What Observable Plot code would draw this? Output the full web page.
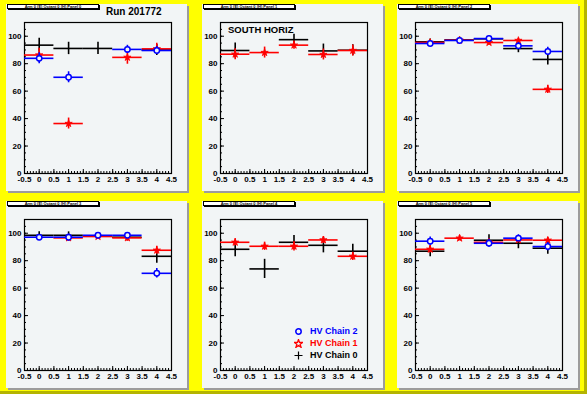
<!DOCTYPE html>
<html><head><meta charset="utf-8">
<script src="https://cdn.jsdelivr.net/npm/d3@7"></script>
<script src="https://cdn.jsdelivr.net/npm/@observablehq/plot@0.6"></script>
<style>
body{margin:0;background:#fff;}
#canvas{position:relative;width:587px;height:394px;background:#ffff00;overflow:hidden;box-sizing:border-box;border-right:3px solid #b4b400;border-bottom:3px solid #b4b400;font-family:"Liberation Sans",Arial,Helvetica,sans-serif;}
.pad{position:absolute;width:181px;height:187px;background:#f2f5f6;box-shadow:2px 2px 0 #9c9c9c;}
.pad svg{display:block;}
.tbox{position:absolute;left:1px;top:0;width:92px;height:5px;background:#fff;border:1px solid #000;box-shadow:1px 1px 0 #000;box-sizing:border-box;overflow:hidden;}
.tbox span{position:absolute;left:50%;top:50%;white-space:nowrap;font-size:8px;font-weight:bold;transform:translate(-50%,-50%) scale(0.5);}
.run{position:absolute;left:100px;top:2px;font-size:10px;font-weight:bold;}
.south{position:absolute;left:26px;top:20px;font-size:9.5px;font-weight:bold;}
.legend{position:absolute;left:92px;top:124px;font-size:9px;font-weight:bold;}
.legend div{height:12px;line-height:12px;display:flex;align-items:center;}
.legend svg{margin-right:3px;}
</style>
</head><body>
<div id="canvas"></div>
<script>
// ---- data ----
const bins = [0, 1, 2, 3, 4];
const panelTitles = [
  "Arm 0 (E) Octant 0 (H) Panel 0",
  "Arm 0 (E) Octant 0 (H) Panel 1",
  "Arm 0 (E) Octant 0 (H) Panel 2",
  "Arm 0 (E) Octant 0 (H) Panel 3",
  "Arm 0 (E) Octant 0 (H) Panel 4",
  "Arm 0 (E) Octant 0 (H) Panel 5"
];
const seriesNames = ["HV Chain 2", "HV Chain 1", "HV Chain 0"];
const seriesColors = ["#0000ff", "#ff0000", "#000000"];
const xTickLabels = [-0.5, 0, 0.5, 1, 1.5, 2, 2.5, 3, 3.5, 4, 4.5];
const yTickLabels = [0, 20, 40, 60, 80, 100];

// HV Chain 2 (blue)
const chain2 = [
  [83.9, 70.1, null, 90.4, 89.6],
  [null, null, null, null, null],
  [94.7, 96.9, 98.3, 93.0, 88.9],
  [97.1, 97.1, 98.5, 98.5, 70.8],
  [null, null, null, null, null],
  [94.2, null, 92.7, 96.4, 90.3]
];
const chain2Err = [
  [4, 4, null, 3, 3],
  [null, null, null, null, null],
  [2, 1.5, 1.5, 2.5, 3],
  [2, 2.5, 2, 2, 3.5],
  [null, null, null, null, null],
  [3, null, 3, 2.5, 3]
];
// HV Chain 1 (red)
const chain1 = [
  [86.3, 36.4, null, 84.6, 90.8],
  [86.9, 88.1, 93.5, 86.7, 89.6],
  [95.4, 97.1, 95.4, 96.9, 61.3],
  [null, 96.6, 97.6, 96.6, 87.6],
  [93.4, 90.5, 90.5, 95.1, 83.2],
  [88.3, 96.4, 93.4, 95.1, 94.9]
];
const chain1Err = [
  [5, 4, null, 5, 4],
  [4, 4, 3, 4, 4],
  [2, 1.5, 2, 1.5, 3],
  [null, 2.5, 2, 2.5, 3],
  [2.5, 3, 3.5, 2.5, 3],
  [2.5, 2, 2.5, 2, 2]
];
// HV Chain 0 (black)
const chain0 = [
  [93.5, 91.1, 91.1, null, 90.0],
  [89.6, null, 97.5, 89.3, 89.8],
  [95.9, 97.3, 98.1, 91.0, 83.1],
  [98.5, 98.5, 98.0, 97.1, 83.2],
  [88.3, 74.0, 93.4, 91.2, 86.9],
  [86.9, null, 94.9, 92.7, 89.1]
];
const chain0Err = [
  [5, 4.5, 4.5, null, 4],
  [5.5, null, 4, 5, 4],
  [2, 2, 2, 3, 4],
  [2.5, 2.5, 2, 2.5, 5],
  [5.5, 7, 5, 5.5, 5],
  [4, null, 4, 4, 4.5]
];

// ---- layout ----
const padPos = [[6, 4], [202, 4], [397, 4], [6, 201], [202, 201], [397, 201]];
const padBg = "#f2f5f6";
const canvas = document.getElementById("canvas");

function rowsFor(vals, errs) {
  return bins.map((b, k) => ({x: b, y: vals[k], e: errs[k]})).filter(d => d.y != null);
}

const xMinor = d3.range(-5, 46).map(i => i / 10);
const yMinor = d3.range(0, 111, 5);

function seriesMarks(rows, color, kind) {
  const m = [
    Plot.ruleY(rows, {y: "y", x1: d => d.x - 0.5, x2: d => d.x + 0.5, stroke: color, strokeWidth: 1.6}),
    Plot.ruleX(rows, {x: "x", y1: d => d.y - d.e, y2: d => d.y + d.e, stroke: color, strokeWidth: 1.6})
  ];
  if (kind === "circle") m.push(Plot.dot(rows, {x: "x", y: "y", r: 2.7, stroke: color, strokeWidth: 1.5, fill: padBg}));
  if (kind === "star") m.push(Plot.dot(rows, {x: "x", y: "y", r: 2.3, symbol: "star", fill: color, stroke: color, strokeWidth: 0.8}));
  return m;
}

panelTitles.forEach((title, i) => {
  const pad = document.createElement("div");
  pad.className = "pad";
  pad.style.left = padPos[i][0] + "px";
  pad.style.top = padPos[i][1] + "px";
  const chart = Plot.plot({
    width: 181, height: 187,
    marginLeft: 18, marginRight: 16, marginTop: 18, marginBottom: 18,
    x: {domain: [-0.5, 4.5], label: null},
    y: {domain: [0, 110], label: null},
    style: {background: "transparent", fontFamily: "Liberation Sans, Arial, sans-serif", fontSize: "8px", fontWeight: "bold", color: "black"},
    marks: [
      Plot.axisX({ticks: xMinor, tickSize: -2, tickFormat: () => "", label: null, strokeWidth: 1}),
      Plot.axisX({ticks: xTickLabels, tickSize: -4, tickFormat: () => "", label: null}),
      Plot.axisX({ticks: xTickLabels, tickSize: 0, tickPadding: 3, tickFormat: d => String(d), label: null}),
      Plot.axisY({ticks: yMinor, tickSize: -2, tickFormat: () => "", label: null}),
      Plot.axisY({ticks: yTickLabels, tickSize: -4, tickFormat: () => "", label: null}),
      Plot.axisY({ticks: yTickLabels, tickSize: 0, tickPadding: 3, tickFormat: d => String(d), label: null}),
      Plot.frame({stroke: "black", strokeWidth: 1.2}),
      ...seriesMarks(rowsFor(chain0[i], chain0Err[i]), seriesColors[2], "none"),
      ...seriesMarks(rowsFor(chain1[i], chain1Err[i]), seriesColors[1], "star"),
      ...seriesMarks(rowsFor(chain2[i], chain2Err[i]), seriesColors[0], "circle")
    ]
  });
  pad.appendChild(chart);
  const tb = document.createElement("div");
  tb.className = "tbox";
  tb.innerHTML = "<span>" + title + "</span>";
  pad.appendChild(tb);
  if (i === 0) {
    const r = document.createElement("div");
    r.className = "run"; r.textContent = "Run 201772";
    pad.appendChild(r);
  }
  if (i === 1) {
    const s = document.createElement("div");
    s.className = "south"; s.textContent = "SOUTH HORIZ";
    pad.appendChild(s);
  }
  if (i === 4) {
    const lg = document.createElement("div");
    lg.className = "legend";
    const sym = [
      '<svg width="9" height="9"><circle cx="4.5" cy="4.5" r="2.7" fill="none" stroke="#0000ff" stroke-width="1.5"/></svg>',
      '<svg width="9" height="9"><path d="' + d3.symbol(d3.symbolStar, 22)() + '" transform="translate(4.5,4.8)" fill="none" stroke="#ff0000" stroke-width="1.3"/></svg>',
      '<svg width="9" height="9"><path d="M4.5,0.5V8.5M0.5,4.5H8.5" stroke="#000" stroke-width="1.2"/></svg>'
    ];
    lg.innerHTML = seriesNames.map((n, k) => '<div style="color:' + seriesColors[k] + '">' + sym[k] + '<span style="margin-left:4px">' + n + '</span></div>').join("");
    pad.appendChild(lg);
  }
  canvas.appendChild(pad);
});
</script>
</body></html>
